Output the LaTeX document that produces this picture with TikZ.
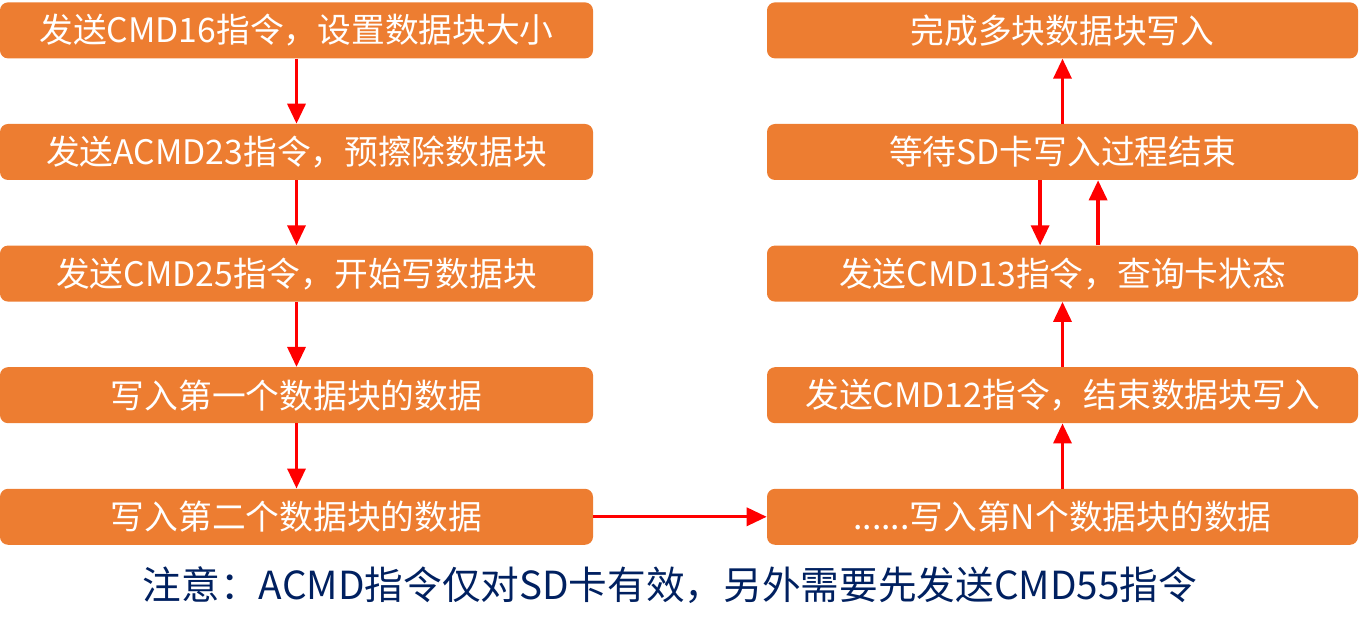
\documentclass[tikz,border=0pt]{standalone}
\usepackage{fontspec}
\newfontfamily\cjk{Noto Sans CJK SC}
\usetikzlibrary{positioning, arrows.meta}
\definecolor{boxorange}{HTML}{ED7D31}
\definecolor{notenavy}{HTML}{002060}
\begin{document}
\begin{tikzpicture}
	\tikzset{
		stepbox/.style={rectangle, rounded corners=0.2cm, fill=boxorange, text=white, minimum height=1.4cm, inner sep=0pt, font=\cjk\fontsize{24}{29}\selectfont},
		leftbox/.style={stepbox, minimum width=14.825cm},
		rightbox/.style={stepbox, minimum width=14.775cm},
		flow/.style={red, line width=2.4pt, -{Triangle[width=0.45cm, length=0.5cm]}}
	}
	\useasboundingbox (0,0) rectangle (34,-15.775);
	% left column, top to bottom
	\foreach \txt [count=\i] in {发送CMD16指令，设置数据块大小, 发送ACMD23指令，预擦除数据块, 发送CMD25指令，开始写数据块, 写入第一个数据块的数据, 写入第二个数据块的数据} {
		\node[leftbox] (L\i) at (7.4125, {-0.76-(\i-1)*3.04}) {\txt};
	}
	% right column, top to bottom
	\foreach \txt [count=\i] in {完成多块数据块写入, 等待SD卡写入过程结束, 发送CMD13指令，查询卡状态, 发送CMD12指令，结束数据块写入, {{.}{.}{.}{.}{.}{.}写入第N个数据块的数据}} {
		\node[rightbox] (R\i) at (26.5625, {-0.76-(\i-1)*3.04}) {\txt};
	}
	\node[text=notenavy, font=\cjk\fontsize{27.5}{33}\selectfont] (note) at (16.75,-14.63) {注意：ACMD指令仅对SD卡有效，另外需要先发送CMD55指令};
	\foreach \a/\b in {1/2, 2/3, 3/4, 4/5} {
		\draw[flow] (L\a.south) -- (L\b.north);
	}
	\draw[flow] (L5.east) -- (R5.west);
	\draw[flow] (R5.north) -- (R4.south);
	\draw[flow] (R4.north) -- (R3.south);
	\draw[flow] ([xshift=-0.56cm]R2.south) -- ([xshift=-0.56cm]R3.north);
	\draw[flow] ([xshift=0.89cm]R3.north) -- ([xshift=0.89cm]R2.south);
	\draw[flow] (R2.north) -- (R1.south);
\end{tikzpicture}
\end{document}
